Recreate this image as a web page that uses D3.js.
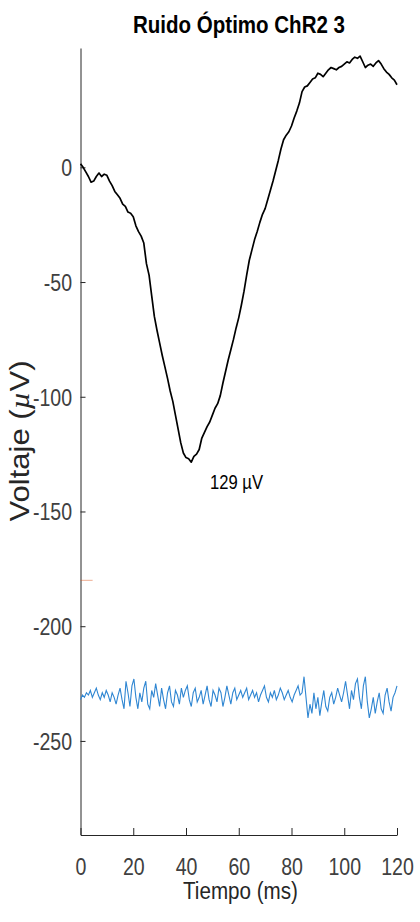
<!DOCTYPE html>
<html>
<head>
<meta charset="utf-8">
<script src="https://cdn.jsdelivr.net/npm/d3@7"></script>
<style>
  body { margin: 0; background: #fff; }
  text { font-family: "Liberation Sans", Arial, sans-serif; }
</style>
</head>
<body>
<svg id="chart" width="420" height="922"></svg>
<script>
// response, 1 ms steps from 0 to 120 ms
const respStep = 1;
const response = [
    1.5, 0, -2, -4, -6.5, -6, -4, -2.5, -4, -3,
    -3.5, -6, -8, -10.5, -12, -13.5, -16, -17, -19.5, -20,
    -21.5, -25.5, -28, -30, -33, -42, -47, -56, -65, -71,
    -76.5, -82, -87, -92, -97.5, -102, -108, -114, -120, -124.5,
    -126.5, -127, -128.5, -126, -125, -123, -118, -115.5, -113, -111,
    -108, -105, -103, -99.5, -94, -89, -84, -79.5, -75, -70,
    -65.5, -60, -54, -47, -40.5, -36, -31.5, -28, -24, -20.5,
    -18, -14, -10, -6, -1.5, 3, 8, 12, 14, 15.5,
    18, 21.5, 24.5, 28, 33, 35, 35.5, 37, 38.5, 39,
    41, 40.5, 39.5, 41, 42.5, 43.5, 43, 42.5, 43.5, 44,
    45, 46, 45.5, 47, 48, 47.5, 48.5, 46, 43.5, 44.5,
    45, 44, 45.5, 46.5, 45, 43, 41.5, 40.5, 39, 38,
    36
];

// noise trace (offset), 0.75 ms steps
const noiseStep = 0.75;
const noise = [
    -232, -230, -231, -229, -230, -228, -231, -229, -227, -230,
    -232, -229, -231, -228, -230, -233, -229, -231, -234, -230,
    -227,
    -232, -236, -224, -229, -235, -226, -223, -231, -236, -229,
    -233, -227, -224, -234, -236, -228, -231, -225, -230, -235,
    -227, -232, -236, -229, -226, -233, -235, -228, -230, -234,
    -227, -231, -228, -226, -232, -235, -229, -227, -233, -231,
    -228, -234, -230, -226, -232, -235, -228, -230, -233, -227,
    -229, -235, -231, -226, -230, -234, -229, -227, -232, -230,
    -228, -231, -229, -227, -232, -230, -228, -231, -229, -233,
    -230, -228, -226, -231, -233, -229, -231, -228, -232, -230,
    -227, -229, -232, -230, -228, -231, -233, -230, -228, -226,
    -230, -229, -222, -231, -240, -234, -238, -229, -236, -231,
    -239, -233, -228, -235, -237, -231, -229, -234, -231, -227,
    -230, -233, -229, -224, -230, -236, -228, -232, -225, -223,
    -231, -236, -226, -222, -233, -240, -236, -231, -238, -233,
    -229, -236, -238, -230, -227, -233, -237, -231, -229, -226
];

// threshold marker
const markerTimes = [0, 4.6];
const markerLevel = -180;

const xTicks = [0, 20, 40, 60, 80, 100, 120];
const yTicks = [-250, -200, -150, -100, -50, 0];
const peakLabel = {t: 49.1, v: -140.4, text: '129 µV'};

var svg = d3.select('#chart');

var scale =
{
    x: d3.scaleLinear().domain([0, 120]).range([80.5, 397]),
    y: d3.scaleLinear().domain([-291, 52]).range([835, 48])
};

var line = d3.line()
.x(function(d) { return scale.x(d.t); })
.y(function(d) { return scale.y(d.v); });

const responsePts = response.map((v, i) => ({t: i * respStep, v: v}));
const noisePts = noise.map((v, i) => ({t: i * noiseStep, v: v}));

// x axis
var xAxis = svg.append('g')
    .attr('transform', 'translate(0,835)')
    .call(d3.axisBottom(scale.x).tickValues(xTicks).tickSizeInner(-7).tickSizeOuter(0).tickPadding(0));
xAxis.select('.domain').attr('stroke', '#262626');
xAxis.selectAll('.tick line').attr('stroke', '#262626');
xAxis.selectAll('.tick text')
    .attr('y', 40).attr('dy', 0)
    .attr('font-size', 23)
    .attr('fill', '#404040')
    .attr('transform', 'scale(0.85,1)');

// y axis
var yAxis = svg.append('g')
    .attr('transform', 'translate(80.5,0)')
    .call(d3.axisLeft(scale.y).tickValues(yTicks).tickSizeInner(-5).tickSizeOuter(0));
yAxis.select('.domain').attr('stroke', '#262626');
yAxis.selectAll('.tick line').attr('stroke', '#262626');
yAxis.selectAll('.tick text')
    .attr('x', -8.5 / 0.85).attr('dy', '0.36em')
    .attr('font-size', 23)
    .attr('fill', '#404040')
    .attr('transform', 'scale(0.85,1)')
    .text(d => d === 0 ? '0' : String(d));

// traces
svg.append('path')
    .attr('d', line(markerTimes.map(t => ({t: t, v: markerLevel}))))
    .attr('fill', 'none').attr('stroke', '#D95319').attr('stroke-opacity', 0.6).attr('stroke-width', 0.8);

svg.append('path')
    .attr('d', line(noisePts))
    .attr('fill', 'none').attr('stroke', '#2f86d2').attr('stroke-width', 1.1);

svg.append('path')
    .attr('d', line(responsePts))
    .attr('fill', 'none').attr('stroke', '#000').attr('stroke-width', 1.7)
    .attr('stroke-linejoin', 'round');

// texts
svg.append('text')
    .attr('x', scale.x(peakLabel.t)).attr('y', scale.y(peakLabel.v))
    .attr('font-size', 21).attr('fill', '#000')
    .attr('textLength', 53).attr('lengthAdjust', 'spacingAndGlyphs')
    .text(peakLabel.text);

svg.append('text')
    .attr('x', 239).attr('y', 33)
    .attr('text-anchor', 'middle')
    .attr('font-size', 24).attr('font-weight', 'bold').attr('fill', '#000')
    .attr('textLength', 212).attr('lengthAdjust', 'spacingAndGlyphs')
    .text('Ruido Óptimo ChR2 3');

svg.append('text')
    .attr('x', 240.5).attr('y', 899)
    .attr('text-anchor', 'middle')
    .attr('font-size', 23).attr('fill', '#262626')
    .attr('textLength', 115).attr('lengthAdjust', 'spacingAndGlyphs')
    .text('Tiempo (ms)');

var ylab = svg.append('text')
    .attr('transform', 'translate(29,441) rotate(-90)')
    .attr('text-anchor', 'middle')
    .attr('font-size', 28).attr('fill', '#262626')
    .attr('textLength', 161).attr('lengthAdjust', 'spacingAndGlyphs');
ylab.append('tspan').text('Voltaje (');
ylab.append('tspan').attr('font-family', '"Liberation Serif", serif').attr('font-style', 'italic').text('µ');
ylab.append('tspan').text('V)');
</script>
</body>
</html>
